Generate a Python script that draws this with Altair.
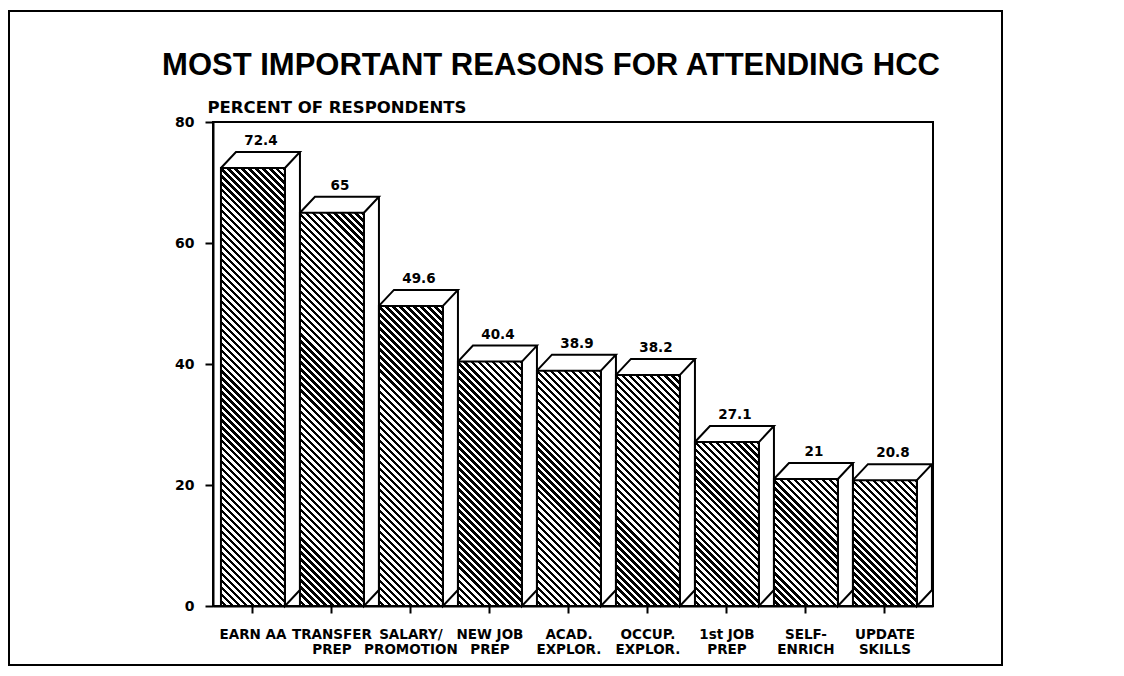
import math
import altair as alt
import pandas as pd

# ---- data ----
categories = ["EARN AA", "TRANSFER|PREP", "SALARY/|PROMOTION", "NEW JOB|PREP",
              "ACAD.|EXPLOR.", "OCCUP.|EXPLOR.", "1st JOB|PREP", "SELF-|ENRICH",
              "UPDATE|SKILLS"]
values = [72.4, 65, 49.6, 40.4, 38.9, 38.2, 27.1, 21, 20.8]
y_ticks = [0, 20, 40, 60, 80]
title_text = "MOST IMPORTANT REASONS FOR ATTENDING HCC"
y_title = "PERCENT OF RESPONDENTS"

# ---- layout / style constants ----
PLOT_W, PLOT_H = 720, 484
Y_MAX = 80
BAR_W = 64
DEPTH_X, DEPTH_Y = 15, 16
HATCH_SPACING = 7.0      # horizontal distance between hatch lines (px)
HATCH_INK = 0.47         # fraction of each period that is black
SMALL_FONT = "DejaVu Sans"
TITLE_FONT = "Liberation Sans"

df = pd.DataFrame({"cat": categories, "value": values})

x_enc = alt.X("cat:N", sort=categories,
              scale=alt.Scale(paddingInner=0, paddingOuter=0.057, align=0.05),
              axis=alt.Axis(title=None, labelAngle=0, labelExpr="split(datum.label, '|')",
                            labelBaseline="top", labelPadding=14, labelLineHeight=15,
                            tickSize=7, labelFontSize=13.5))
y_enc = alt.Y("value:Q", scale=alt.Scale(domain=[0, Y_MAX], nice=False, zero=True),
              axis=alt.Axis(values=y_ticks, title=y_title, titleAngle=0, titleAlign="left",
                            titleBaseline="alphabetic", titleX=-6, titleY=-10,
                            tickSize=8, labelPadding=11))


def hatch_gradient(v):
    w = BAR_W
    h = v * PLOT_H / Y_MAX
    k = (w + h) / (w * w + h * h)
    n = max(1, round((w + h) / HATCH_SPACING))
    stops = []
    for i in range(n):
        a = i / n
        b = (i + 1 - HATCH_INK) / n
        c = (i + 1) / n
        stops += [{"offset": a, "color": "white"}, {"offset": b, "color": "white"},
                  {"offset": b, "color": "black"}, {"offset": c, "color": "black"}]
    return {"gradient": "linear", "x1": 0, "y1": 1, "x2": k * w, "y2": 1 - k * h,
            "stops": stops}


layers = []

# front faces with diagonal hatching (one layer per bar for its own gradient)
for c, v in zip(categories, values):
    layers.append(
        alt.Chart(df).transform_filter(alt.datum.cat == c)
        .mark_bar(width=BAR_W, fill=hatch_gradient(v), stroke="black", strokeWidth=2)
        .encode(x=x_enc, y=y_enc)
    )

# 3-D top and side outline
verts = [(-BAR_W / 2, 0, True), (-BAR_W / 2 + DEPTH_X, -DEPTH_Y, True),
         (BAR_W / 2 + DEPTH_X, -DEPTH_Y, True), (BAR_W / 2, 0, True),
         (BAR_W / 2, 0, False), (BAR_W / 2 + DEPTH_X, -DEPTH_Y, False),
         (BAR_W / 2 + DEPTH_X, -DEPTH_Y, True)]
rows = []
for c, v in zip(categories, values):
    for i, (dx, dy, top) in enumerate(verts):
        rows.append({"cat": c, "value": v if top else 0, "idx": i, "dx": dx, "dy": dy})
shape = pd.DataFrame(rows)
layers.append(
    alt.Chart(shape).mark_line(color="black", strokeWidth=2, strokeJoin="miter",
                               xOffset=alt.expr("datum.dx"), yOffset=alt.expr("datum.dy"))
    .encode(x=x_enc, y=y_enc, detail="cat:N", order="idx:Q")
)

# value labels
layers.append(
    alt.Chart(df).mark_text(dx=8, dy=-DEPTH_Y - 4, baseline="bottom", font=SMALL_FONT,
                            fontWeight="bold", fontSize=13.5, color="black")
    .encode(x=x_enc, y=y_enc, text=alt.Text("value:Q", format="~g"))
)

# chart title
layers.append(
    alt.Chart(pd.DataFrame({"t": [title_text]})).mark_text(
        font=TITLE_FONT, fontWeight="bold", fontSize=31, align="center",
        baseline="alphabetic", color="black")
    .encode(text="t:N", x=alt.value(338), y=alt.value(-47))
)

# outer frame
layers.append(
    alt.Chart(pd.DataFrame({"a": [0]})).mark_rect(fillOpacity=0, stroke="black", strokeWidth=2)
    .encode(x=alt.value(-204), x2=alt.value(789), y=alt.value(-111), y2=alt.value(543))
)

chart = alt.layer(*layers).properties(
    width=PLOT_W, height=PLOT_H,
    autosize=alt.AutoSizeParams(type="none"),
    padding={"left": 205, "top": 114, "right": 183, "bottom": 62},
    background="white",
).configure_view(
    stroke="black", strokeWidth=2
).configure_axis(
    grid=False, domainColor="black", domainWidth=2, tickColor="black", tickWidth=2,
    labelFont=SMALL_FONT, labelFontWeight="bold", labelFontSize=14, labelColor="black",
    titleFont=SMALL_FONT, titleFontWeight="bold", titleFontSize=16.5, titleColor="black",
)

chart.save("out.html", embed_options={"renderer": "svg", "actions": False})
